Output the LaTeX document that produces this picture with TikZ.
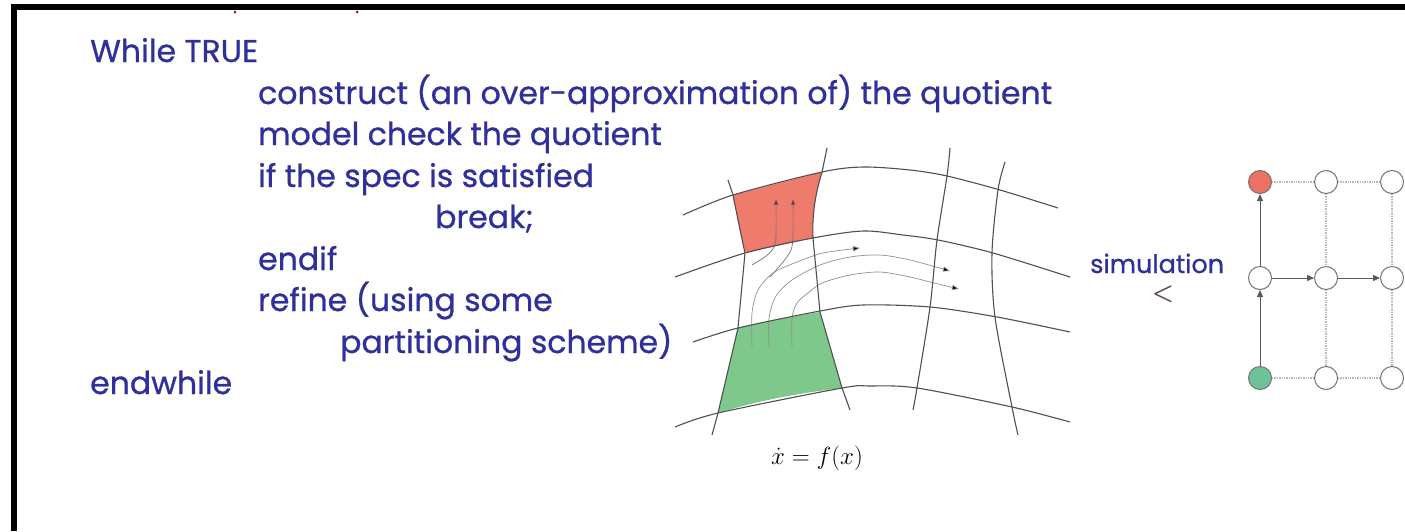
\documentclass[tikz,border=0pt]{standalone}
\usepackage{fontspec}
\newfontfamily\comic[FakeBold=0.8]{Poppins}
\usetikzlibrary{arrows.meta}
\definecolor{codeblue}{HTML}{30309A}
\definecolor{regred}{HTML}{EF7B6D}
\definecolor{reggreen}{HTML}{7DC88A}
\definecolor{nodered}{HTML}{EC7063}
\definecolor{nodegreen}{HTML}{6EC29A}
\definecolor{gridgray}{HTML}{505050}
\definecolor{flowgray}{HTML}{909090}
\definecolor{ltdot}{HTML}{B8B8B8}
\definecolor{ltname}{HTML}{5A4A4A}
\tikzset{
  code/.style={font=\comic\fontsize{31.5}{36}\selectfont, text=codeblue, inner sep=0pt, anchor=base west},
  gridline/.style={draw=gridgray, line width=1.1pt},
  flow/.style={draw=flowgray, line width=0.7pt},
  gnode/.style={circle, draw=gridgray!80, line width=1pt, minimum size=23pt, inner sep=0pt, fill=white},
  dotedge/.style={draw=ltdot, densely dotted, line width=1.4pt},
  soledge/.style={draw=gray!70!black, line width=1pt, -{Triangle[length=7pt,width=6pt]}}
}
\begin{document}
\begin{tikzpicture}[x=1pt,y=-1pt]
\useasboundingbox (0,0) rectangle (1405,531);
\fill[white] (0,0) rectangle (1405,531);
% frame
\draw[line width=6pt, line join=miter] (13.5,531) -- (13.5,6.5) -- (1405,6.5);
\fill[red!80!black] (235,12) circle (1.5pt);
\fill[red!80!black] (357,12) circle (1.5pt);

% pseudo code
\node[code] (l1) at (90,62) {While TRUE};
\node[code] (l2) at (258,104) {construct (an over-approximation of) the quotient};
\node[code] (l3) at (258,145) {model check the quotient};
\node[code] (l4) at (258,187) {if the spec is satisfied};
\node[code] (l5) at (435,228) {break;};
\node[code] (l6) at (258,270) {endif};
\node[code] (l7) at (258,311) {refine (using some};
\node[code] (l8) at (340,353) {partitioning scheme)};
\node[code] (l9) at (90,394) {endwhile};

% regions
\fill[regred] (733,195) -- (822,172) .. controls (815,195) and (812,215) .. (813,238) -- (745,253) .. controls (741,235) and (737,215) .. (733,195) -- cycle;
\fill[reggreen] (738,328) .. controls (765,322) and (795,316) .. (820,312) -- (842,388) .. controls (800,393) and (760,400) .. (718,413) -- cycle;

% flow lines
\draw[flow,draw=flowgray!80!black,-{Triangle[length=6pt,width=5pt,fill=red!75!black]}] plot[smooth] coordinates {(752,265) (766,256) (774,247) (776,235) (776,199)};
\draw[flow,draw=flowgray!80!black,-{Triangle[length=6pt,width=5pt,fill=red!75!black]}] plot[smooth] coordinates {(770,277) (783,262) (791,250) (793,235) (793,199)};
\draw[flow,-{Triangle[length=7pt,width=5pt,fill=black]}] plot[smooth] coordinates {(752,347) (752,313) (758,290) (773,273) (797,262) (823,253) (860,248)};
\draw[flow,-{Triangle[length=7pt,width=5pt,fill=black]}] plot[smooth] coordinates {(769,347) (769,318) (776,296) (792,280) (820,265) (850,257) (880,255) (910,260) (950,271)};
\draw[flow,-{Triangle[length=7pt,width=5pt,fill=black]}] plot[smooth] coordinates {(792,347) (792,318) (797,303) (808,293) (822,283) (850,275) (880,272) (910,277) (930,282) (959,289)};

% grid curves
\draw[gridline] plot[smooth] coordinates {(683,215) (733,195) (822,172) (863,167) (910,170) (947,176) (1000,190) (1058,208)};
\draw[gridline] plot[smooth] coordinates {(675,277) (745,253) (813,238) (863,231) (903,235) (938,240) (993,253) (1070,277)};
\draw[gridline] plot[smooth] coordinates {(693,342) (738,328) (820,311) (863,305) (930,307) (997,317) (1070,332)};
\draw[gridline] plot[smooth] coordinates {(675,427) (718,413) (842,388) (870,386) (917,388) (1012,407) (1070,422)};
\draw[gridline] (728,180) -- (733,195) .. controls (737,215) and (741,235) .. (745,253) -- (738,328) -- (718,413) -- (712,435);
\draw[gridline] (827,148) -- (822,172) .. controls (815,195) and (812,215) .. (813,238) -- (820,312) -- (842,388) -- (850,410);
\draw[gridline] plot[smooth] coordinates {(950,148) (947,176) (937,240) (930,307) (917,388) (913,410)};
\draw[gridline] plot[smooth] coordinates {(1005,162) (998,190) (992,253) (995,317) (1012,407) (1018,435)};

\node[inner sep=0pt, font=\fontsize{24}{28}\selectfont] (eq) at (817,458) {$\dot{x} = f(x)$};

% simulation
\node[font=\comic\fontsize{25.5}{30}\selectfont, text=codeblue, inner sep=0pt, anchor=base west] (sim) at (1090,273) {simulation};
\node[font=\fontsize{46}{50}\selectfont\boldmath, text=ltname, inner sep=0pt] (lt) at (1163,294) {$<$};

% graph
\node[gnode, fill=nodered] (n11) at (1260,182) {};
\node[gnode] (n12) at (1326,182) {};
\node[gnode] (n13) at (1392,182) {};
\node[gnode] (n21) at (1260,278) {};
\node[gnode] (n22) at (1326,278) {};
\node[gnode] (n23) at (1392,278) {};
\node[gnode, fill=nodegreen] (n31) at (1260,378) {};
\node[gnode] (n32) at (1326,378) {};
\node[gnode] (n33) at (1392,378) {};
\draw[dotedge] (n11) -- (n12);
\draw[dotedge] (n12) -- (n13);
\draw[dotedge] (n31) -- (n32);
\draw[dotedge] (n32) -- (n33);
\draw[dotedge] (n12) -- (n22);
\draw[dotedge] (n22) -- (n32);
\draw[dotedge] (n13) -- (n23);
\draw[dotedge] (n23) -- (n33);
\draw[soledge] (n31) -- (n21);
\draw[soledge] (n21) -- (n11);
\draw[soledge] (n21) -- (n22);
\draw[soledge] (n22) -- (n23);
\end{tikzpicture}
\end{document}
